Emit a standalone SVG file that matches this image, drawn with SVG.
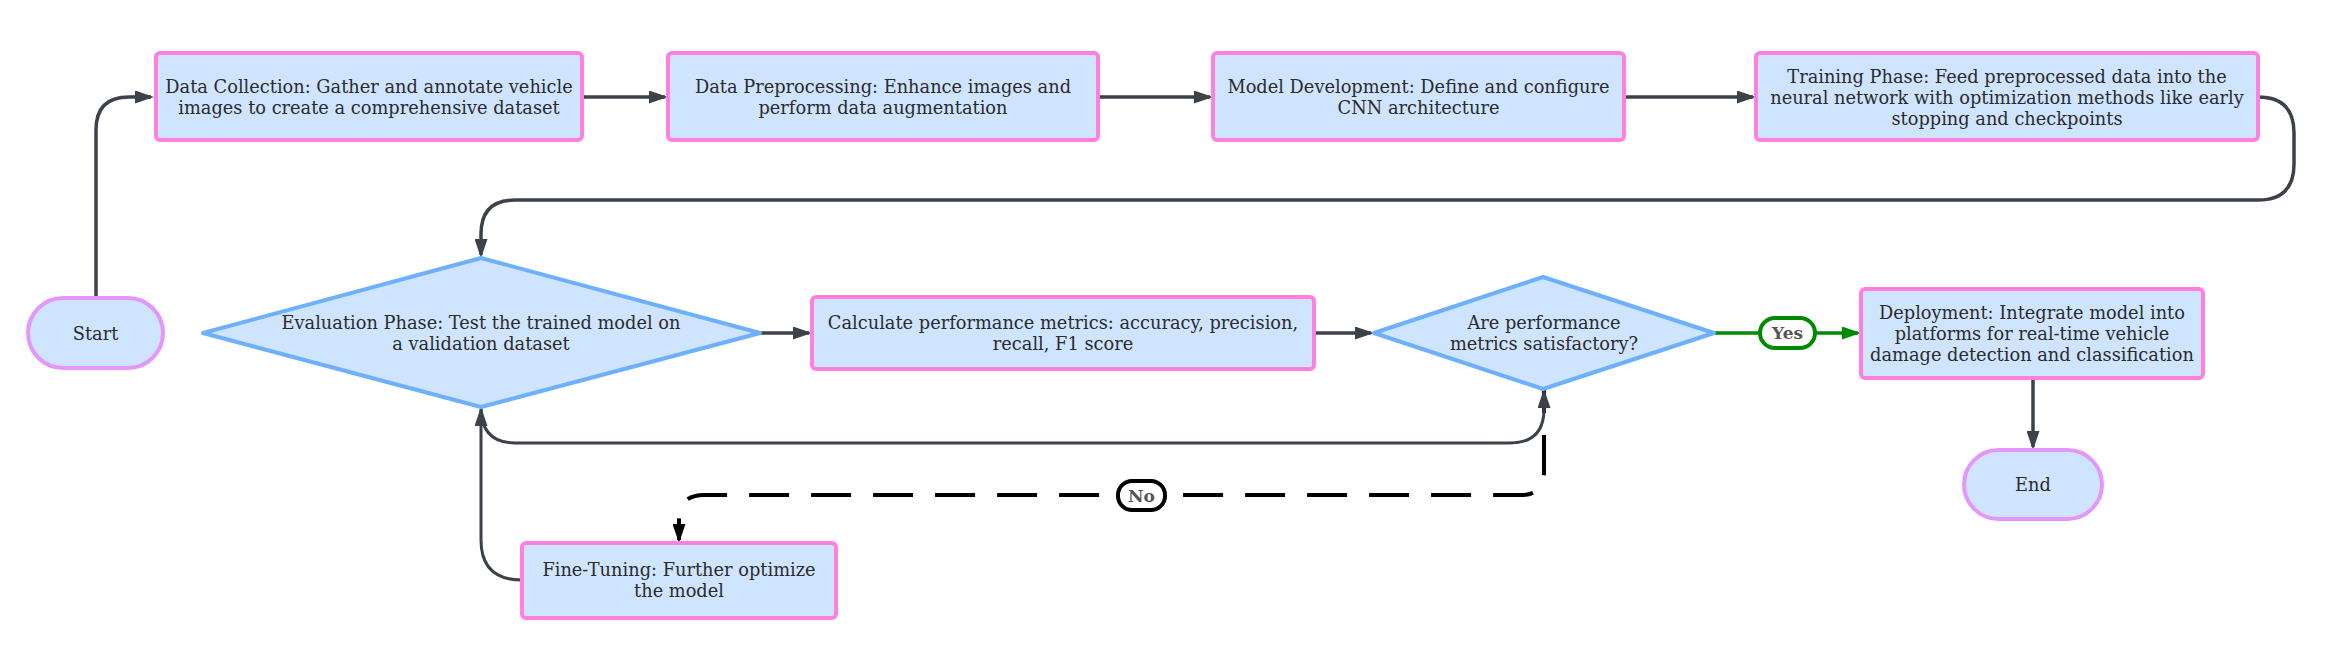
<svg xmlns="http://www.w3.org/2000/svg" width="2330" height="663" viewBox="0 0 2330 663">
<style>
  .box{fill:#cfe4ff;stroke:#ff80df;stroke-width:4}
  .dia{fill:#cfe4ff;stroke:#6db0ff;stroke-width:4;stroke-linejoin:round}
  .term{fill:#cfe4ff;stroke:#e397fd;stroke-width:4}
  .t{font-family:"DejaVu Serif","Liberation Serif",serif;font-size:17.8px;fill:#2b2b2b;text-anchor:middle;dominant-baseline:central}
  .e{fill:none;stroke:#3c414a;stroke-width:3.5}
  .g{fill:none;stroke:#008a00;stroke-width:3.5}
  .d{fill:none;stroke:#000;stroke-width:4;stroke-dasharray:40 22;stroke-dashoffset:17}
  .lbl{font-family:"DejaVu Serif","Liberation Serif",serif;font-size:17px;fill:#555;text-anchor:middle;dominant-baseline:central;font-weight:bold}
</style>
<defs>
  <marker id="ag" viewBox="0 0 19 13" refX="16" refY="6.5" markerWidth="19" markerHeight="13" markerUnits="userSpaceOnUse" orient="auto"><path d="M0,0 L19,6.5 L0,13 z" fill="#3c414a"/></marker>
  <marker id="agr" viewBox="0 0 19 13" refX="16" refY="6.5" markerWidth="19" markerHeight="13" markerUnits="userSpaceOnUse" orient="auto"><path d="M0,0 L19,6.5 L0,13 z" fill="#008a00"/></marker>
  <marker id="ab" viewBox="0 0 19 13" refX="16" refY="6.5" markerWidth="19" markerHeight="13" markerUnits="userSpaceOnUse" orient="auto"><path d="M0,0 L19,6.5 L0,13 z" fill="#000"/></marker>
</defs>
<rect width="2330" height="663" fill="#fff"/>
<g id="connectors">
  <path class="d" d="M1544,390 V472 Q1544,495 1521,495 H704 Q679,495 679,520 V540" marker-end="url(#ab)"/>
  <path class="e" d="M96,298 V130 Q96,97 129,97 H151" marker-end="url(#ag)"/>
  <path class="e" d="M582,97 H665" marker-end="url(#ag)"/>
  <path class="e" d="M1098,97 H1210" marker-end="url(#ag)"/>
  <path class="e" d="M1624,97 H1753" marker-end="url(#ag)"/>
  <path class="e" d="M2258,97 Q2294,97 2294,133 V164 Q2294,200 2258,200 H515 Q481,200 481,234 V255" marker-end="url(#ag)"/>
  <path class="e" d="M760,333 H809" marker-end="url(#ag)"/>
  <path class="e" d="M1314,333 H1371" marker-end="url(#ag)"/>
  <path class="e" style="stroke-width:3" d="M481,407 Q481,443 515,443 H1510 Q1544,443 1544,409 V392" marker-end="url(#ag)"/>
  <path class="e" style="stroke-width:3" d="M522,580 Q481,580 481,540 V410" marker-end="url(#ag)"/>
  <path class="g" d="M1714,333 H1858" marker-end="url(#agr)"/>
  <path class="e" d="M2033,378 V447" marker-end="url(#ag)"/>
  <g id="lbl-yes"><rect x="1760" y="318" width="55" height="30" rx="15" fill="#fff" stroke="#008a00" stroke-width="4"/><text class="lbl" x="1787.5" y="333">Yes</text></g>
  <g id="lbl-no"><rect x="1118" y="481" width="47" height="29" rx="14" fill="#fff" stroke="#000" stroke-width="4"/><text class="lbl" x="1141.5" y="495.5">No</text></g>
</g>
<g id="start"><rect class="term" x="28" y="298" width="135" height="70" rx="35"/><text class="t" x="95.5" y="333">Start</text></g>
<g id="collect"><rect class="box" x="156" y="53" width="426" height="87" rx="4"/><text class="t" x="369" y="86">Data Collection: Gather and annotate vehicle</text><text class="t" x="369" y="107">images to create a comprehensive dataset</text></g>
<g id="preprocess"><rect class="box" x="668" y="53" width="430" height="87" rx="4"/><text class="t" x="883" y="86">Data Preprocessing: Enhance images and</text><text class="t" x="883" y="107">perform data augmentation</text></g>
<g id="model"><rect class="box" x="1213" y="53" width="411" height="87" rx="4"/><text class="t" x="1418.5" y="86">Model Development: Define and configure</text><text class="t" x="1418.5" y="107">CNN architecture</text></g>
<g id="training"><rect class="box" x="1756" y="53" width="502" height="87" rx="4"/><text class="t" x="2007" y="76">Training Phase: Feed preprocessed data into the</text><text class="t" x="2007" y="97">neural network with optimization methods like early</text><text class="t" x="2007" y="118">stopping and checkpoints</text></g>
<g id="evaluation"><polygon class="dia" points="203,333 481,258 760,333 481,407"/><text class="t" x="481" y="322.5">Evaluation Phase: Test the trained model on</text><text class="t" x="481" y="343.5">a validation dataset</text></g>
<g id="metrics"><rect class="box" x="812" y="297" width="502" height="72" rx="4"/><text class="t" x="1063" y="322.5">Calculate performance metrics: accuracy, precision,</text><text class="t" x="1063" y="343.5">recall, F1 score</text></g>
<g id="decision"><polygon class="dia" points="1374,333 1543,277 1714,333 1543,389"/><text class="t" x="1544" y="322.5">Are performance</text><text class="t" x="1544" y="343.5">metrics satisfactory?</text></g>
<g id="deployment"><rect class="box" x="1861" y="289" width="342" height="89" rx="4"/><text class="t" x="2032" y="312.5">Deployment: Integrate model into</text><text class="t" x="2032" y="333.5">platforms for real-time vehicle</text><text class="t" x="2032" y="354.5">damage detection and classification</text></g>
<g id="finetune"><rect class="box" x="522" y="543" width="314" height="75" rx="4"/><text class="t" x="679" y="569">Fine-Tuning: Further optimize</text><text class="t" x="679" y="590">the model</text></g>
<g id="end"><rect class="term" x="1964" y="450" width="138" height="69" rx="34.5"/><text class="t" x="2033" y="484.5">End</text></g>
</svg>
